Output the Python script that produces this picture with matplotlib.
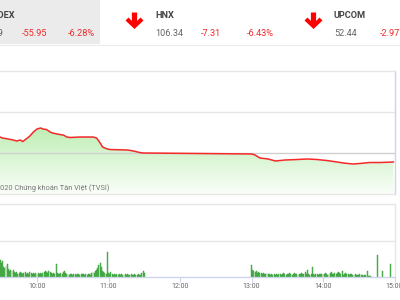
import matplotlib
matplotlib.use("Agg")
import matplotlib.pyplot as plt
import numpy as np
from matplotlib.patches import Rectangle, Polygon

plt.rcParams['font.family'] = ['Roboto', 'DejaVu Sans']

# ---------------- data ----------------
price_times = ["09:29", "09:31", "09:36", "09:40", "09:43", "09:46", "09:48", "09:52", "09:54",
               "09:57", "10:00", "10:03", "10:05", "10:08", "10:11", "10:13", "10:17", "10:19",
               "10:22", "10:25", "10:28", "10:36", "10:47", "10:50", "10:53", "10:55", "10:59",
               "11:01", "11:16", "11:21", "11:26", "11:29", "13:00", "13:03", "13:07", "13:14",
               "13:20", "13:28", "13:38", "13:47", "13:55", "14:03", "14:12", "14:17", "14:25",
               "14:31", "14:39", "14:48", "14:59"]
price_values = [893.90, 893.66, 893.41, 893.17, 892.93, 893.17, 892.80, 893.66, 894.15,
                895.12, 895.85, 896.10, 895.85, 895.73, 895.12, 894.88, 894.63, 894.51,
                894.39, 893.90, 893.78, 893.90, 893.90, 893.66, 892.44, 891.46, 890.98,
                890.85, 890.73, 890.49, 890.12, 890.00, 889.76, 889.51, 888.78, 888.54,
                888.05, 888.29, 888.41, 888.54, 888.41, 888.17, 887.80, 887.56, 887.32,
                887.44, 887.68, 887.68, 887.80]
reference_price = 890.0

vol_morning_start = "09:29"
vol_morning = [47, 38, 44, 27, 25, 30, 36, 22, 16, 19, 16, 19, 14, 11, 14, 8, 11, 14, 11, 8,
               11, 14, 8, 11, 8, 14, 11, 8, 11, 8, 11, 8, 11, 8, 11, 8, 11, 14, 16, 14,
               11, 16, 14, 11, 8, 11, 8, 36, 11, 8, 8, 11, 8, 14, 16, 11, 8, 8, 5, 8,
               8, 5, 8, 8, 5, 8, 8, 5, 8, 8, 8, 5, 8, 5, 8, 8, 5, 11, 14, 11,
               16, 19, 25, 33, 38, 27, 16, 14, 11, 8, 68, 11, 8, 14, 8, 5, 8, 5, 8, 5,
               8, 5, 8, 5, 5, 8, 5, 8, 5, 5, 8, 5, 5, 8, 5, 5, 8, 5, 5, 11, 16, 11]
vol_afternoon_start = "13:00"
vol_afternoon = [33, 19, 16, 14, 16, 11, 14, 11, 11, 8, 11, 8, 8, 11, 8, 8, 5, 8, 5, 8,
                 5, 8, 5, 8, 8, 5, 8, 11, 8, 5, 8, 8, 11, 8, 5, 8, 11, 8, 8, 5,
                 8, 8, 11, 8, 8, 14, 8, 19, 8, 5, 8, 27, 8, 5, 8, 8, 5, 8, 8, 8,
                 8, 8, 11, 8, 5, 8, 11, 14, 8, 8, 11, 8, 11, 14, 11, 8, 16, 5, 8, 11,
                 8, 8, 5, 8, 8, 5, 5, 8, 5, 5, 5, 8, 5, 5, 3, 5, 5, 16, 3, 3, 3]
vol_atc_times = ["14:46", "14:50", "14:57"]
vol_atc = [60, 16, 36]

tick_labels = ["10:00", "11:00", "12:00", "13:00", "14:00", "15:00"]

header_names = ["VNINDEX", "HNX", "UPCOM"]
header_values = ["835.49", "106.34", "52.44"]
header_changes = ["-55.95", "-7.31", "-2.97"]
header_pcts = ["-6.28%", "-6.43%", "-3.05%"]
copyright_text = "©2020 Chứng khoán Tân Việt (TVSI)"


def tmin(s):
    h, m = s.split(":")
    return int(h) * 60 + int(m)


# ---------------- figure ----------------
W, H = 400, 300
fig = plt.figure(figsize=(4, 3), dpi=100)
fig.patch.set_facecolor('white')

XL = (568.95, 900.4)
axr = 395 / W

grid_c = '#e6e6e6'
axis_c = '#ccd6eb'

# price panel
ax = fig.add_axes([0, 1 - 194 / H, axr, 123 / H])
ax.set_xlim(*XL)
ax.set_ylim(880, 910)
pt = np.array([tmin(t) for t in price_times], dtype=float)
pv = np.array(price_values)

# gradient fill
grad = np.linspace(0, 1, 256).reshape(-1, 1)
top_c = np.array([190, 238, 180]) / 255
bot_c = np.array([250, 254, 248]) / 255
img = top_c[None, None, :] * (1 - grad[:, :, None]) + bot_c[None, None, :] * grad[:, :, None]
top_v = pv.max()
im = ax.imshow(img, extent=[pt[0], pt[-1], 880, top_v], aspect='auto', origin='upper', zorder=1)
poly = ax.fill_between(pt, pv, 880, facecolor='none', edgecolor='none')
verts = np.vstack([np.column_stack([pt, pv]), [[pt[-1], 880], [pt[0], 880]]])
clip = Polygon(verts, closed=True, transform=ax.transData, facecolor='none', edgecolor='none')
ax.add_patch(clip)
im.set_clip_path(clip)

for yv in [900]:
    ax.axhline(yv, color=grid_c, lw=1.0, zorder=0.5)
ax.axhline(reference_price, color='#d0d0d0', lw=1.0, zorder=2)
ax.plot(pt, pv, color='#f5292a', lw=1.1, zorder=3, solid_joinstyle='round')

ax.set_xticks([])
ax.set_yticks([])
for s in ['top', 'bottom']:
    ax.spines[s].set_color(grid_c)
    ax.spines[s].set_linewidth(1.0)
ax.spines['right'].set_color(axis_c)
ax.spines['right'].set_linewidth(1.0)
ax.spines['left'].set_visible(False)

# volume panel
axv = fig.add_axes([0, 1 - 277 / H, axr, 73 / H])
axv.set_xlim(*XL)
axv.set_ylim(0, 200)
m0 = tmin(vol_morning_start)
a0 = tmin(vol_afternoon_start)
xm = m0 + np.arange(len(vol_morning))
xa = a0 + np.arange(len(vol_afternoon))
xt = np.array([tmin(t) for t in vol_atc_times])
bx = np.concatenate([xm, xa, xt])
bv = np.concatenate([vol_morning, vol_afternoon, vol_atc])
axv.bar(bx, bv, width=0.8, color='#5cb85c', edgecolor='#2f9a2f', linewidth=0.3, zorder=2)
axv.axhline(100, color=grid_c, lw=1.0, zorder=0.5)
ticks = [tmin(t) for t in tick_labels]
axv.set_xticks(ticks)
axv.set_xticklabels(tick_labels, fontsize=5, color='#666666')
axv.tick_params(axis='x', length=3.6, width=0.8, color=axis_c, pad=1)
axv.set_yticks([])
axv.spines['top'].set_color(grid_c)
axv.spines['right'].set_color(grid_c)
axv.spines['bottom'].set_color(axis_c)
axv.spines['left'].set_visible(False)
for s in ['top', 'right', 'bottom']:
    axv.spines[s].set_linewidth(1.0)

# overlay for header
ov = fig.add_axes([0, 0, 1, 1], zorder=10)
ov.set_xlim(0, W)
ov.set_ylim(H, 0)
ov.axis('off')
ov.patch.set_alpha(0)
ov.add_patch(Rectangle((0, 0), 100, 44, facecolor='#ebebeb', edgecolor='none', zorder=0))
ov.plot([0, W], [44.5, 44.5], color='#ececec', lw=0.8)

red = '#ee2a2a'
gray = '#666666'
# name x positions (left), with VNINDEX right aligned
ov.text(15.5, 17.5, header_names[0], ha='right', va='baseline', fontsize=6.6,
        fontweight='bold', color='#444444')
ov.text(3, 36, header_values[0], ha='right', va='baseline', fontsize=6.6, color=gray)
ov.text(22, 36, header_changes[0], ha='left', va='baseline', fontsize=6.6, color=red)
ov.text(68, 36, header_pcts[0], ha='left', va='baseline', fontsize=6.6, color=red)

for nx, name, val, ch, pc in [(155, header_names[1], header_values[1], header_changes[1], header_pcts[1]),
                              (334, header_names[2], header_values[2], header_changes[2], header_pcts[2])]:
    ov.text(nx, 17.5, name, ha='left', va='baseline', fontsize=6.6, fontweight='bold', color='#444444')
    ov.text(nx, 36, val, ha='left', va='baseline', fontsize=6.6, color=gray)
    ov.text(nx + 46, 36, ch, ha='left', va='baseline', fontsize=6.6, color=red)
    ov.text(nx + 92, 36, pc, ha='left', va='baseline', fontsize=6.6, color=red)


def arrow(c):
    pts = [(c - 2.6, 12.5), (c + 2.6, 12.5), (c + 2.6, 21), (c + 6, 17.5), (c + 9, 20.5),
           (c, 29), (c - 9, 20.5), (c - 6, 17.5), (c - 2.6, 21)]
    ov.add_patch(Polygon(pts, closed=True, facecolor='#ff0000', edgecolor='none'))


arrow(134.5)
arrow(313.5)

ov.text(-9.5, 190, copyright_text, ha='left', va='baseline', fontsize=5.3, color='#777777')

fig.savefig('out.png', dpi=100, facecolor='white')
